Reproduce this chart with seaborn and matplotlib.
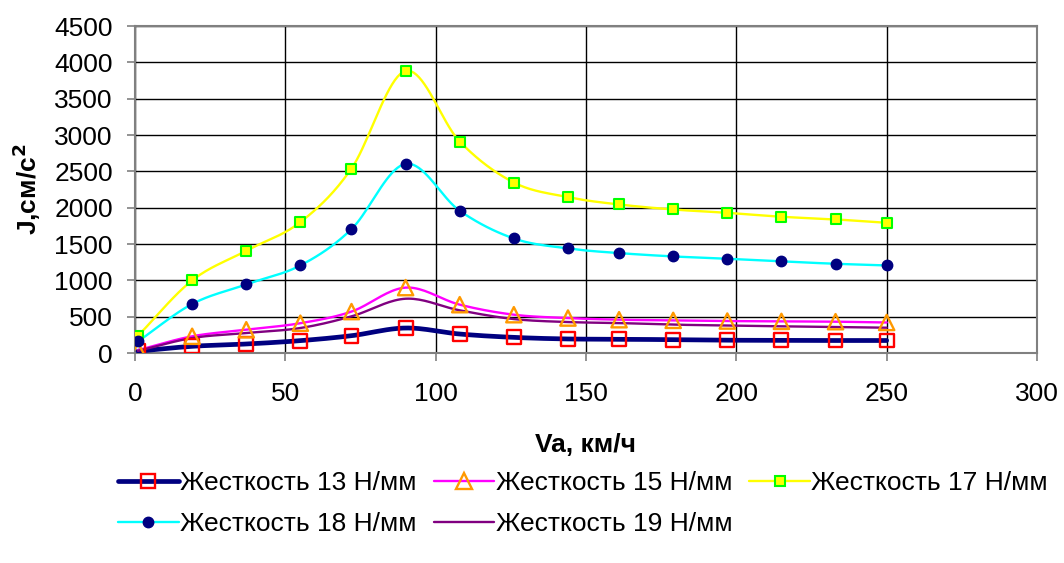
import seaborn as sns
import matplotlib.pyplot as plt
import pandas as pd
import numpy as np
from matplotlib.lines import Line2D

# speeds, km/h
va = [1, 19, 37, 55, 72, 90, 108, 126, 144, 161, 179, 197, 215, 233, 250]

j13 = [25, 92, 124, 170, 238, 344, 261, 215, 193, 190, 183, 176, 174, 172, 172]
j15 = [40, 230, 320, 410, 570, 900, 665, 527, 481, 458, 449, 440, 435, 431, 420]
j17 = [238, 999, 1407, 1801, 2539, 3882, 2910, 2346, 2145, 2044, 1975, 1929, 1875, 1838, 1792]
j18 = [160, 674, 944, 1205, 1705, 2603, 1957, 1576, 1439, 1375, 1329, 1297, 1260, 1228, 1205]
j19 = [30, 206, 275, 344, 504, 747, 587, 467, 426, 412, 390, 380, 367, 358, 348]

labels = ["Жесткость 13 Н/мм", "Жесткость 15 Н/мм", "Жесткость 17 Н/мм",
          "Жесткость 18 Н/мм", "Жесткость 19 Н/мм"]


def smooth(x, y, n=20):
    # Catmull-Rom curve through the points, like Excel's smoothed line
    x = np.asarray(x, float)
    y = np.asarray(y, float)
    px = np.concatenate([[2 * x[0] - x[1]], x, [2 * x[-1] - x[-2]]])
    py = np.concatenate([[2 * y[0] - y[1]], y, [2 * y[-1] - y[-2]]])
    xs, ys = [], []
    t = np.linspace(0, 1, n, endpoint=False)
    for i in range(1, len(px) - 2):
        for p, out in ((px, xs), (py, ys)):
            p0, p1, p2, p3 = p[i - 1], p[i], p[i + 1], p[i + 2]
            out.extend(0.5 * (2 * p1 + (-p0 + p2) * t
                              + (2 * p0 - 5 * p1 + 4 * p2 - p3) * t ** 2
                              + (-p0 + 3 * p1 - 3 * p2 + p3) * t ** 3))
    xs.append(x[-1])
    ys.append(y[-1])
    return xs, ys


sns.set_theme(style="white")
plt.rcParams['font.family'] = ['Liberation Sans', 'DejaVu Sans']
plt.rcParams['text.color'] = 'black'
plt.rcParams['axes.labelcolor'] = 'black'
FS = 19

styles = [
    dict(y=j13, lc="#000080", lw=3.4, m="s", ms=10, mfc="none", mec="#FF0000", mew=1.7),
    dict(y=j15, lc="#FF00FF", lw=1.7, m="^", ms=11, mfc="none", mec="#FF9900", mew=1.7),
    dict(y=j17, lc="#FFFF00", lw=1.7, m="s", ms=6.5, mfc="#FFFF00", mec="#00FF00", mew=1.5),
    dict(y=j18, lc="#00FFFF", lw=1.7, m="o", ms=7.5, mfc="#000080", mec="#000080", mew=1),
    dict(y=j19, lc="#800080", lw=1.7, m=None, ms=0, mfc="none", mec="none", mew=0),
]

fig = plt.figure(figsize=(10.64, 5.63), dpi=100)
ax = fig.add_axes([0.1269, 0.373, 0.8477, 0.5808])

handles = []
for lab, st in zip(labels, styles):
    sx, sy = smooth(va, st["y"])
    df = pd.DataFrame({"x": sx, "y": sy})
    sns.lineplot(data=df, x="x", y="y", ax=ax, color=st["lc"], lw=st["lw"],
                 sort=False, estimator=None, zorder=3)
    if st["m"]:
        pts = pd.DataFrame({"x": va, "y": st["y"]})
        sns.scatterplot(data=pts, x="x", y="y", ax=ax, marker=st["m"],
                        s=st["ms"] ** 2, facecolor=st["mfc"], edgecolor=st["mec"],
                        linewidth=st["mew"], zorder=4)
    handles.append(Line2D([], [], color=st["lc"], lw=st["lw"], marker=st["m"],
                          markersize=st["ms"], markerfacecolor=st["mfc"],
                          markeredgecolor=st["mec"], markeredgewidth=st["mew"],
                          label=lab))

ax.set_xlim(0, 300)
ax.set_ylim(0, 4500)
ax.set_xticks(range(0, 301, 50))
ax.set_yticks(range(0, 4501, 500))
ax.grid(True, color="black", lw=1)
ax.set_axisbelow(True)
for sp in ax.spines.values():
    sp.set_color("#808080")
    sp.set_linewidth(1.5)
ax.tick_params(axis="both", labelsize=FS, direction="out", length=6,
               color="#808080", labelcolor="black", width=1.2, left=True, bottom=True)
ax.tick_params(axis="y", pad=10)
ax.tick_params(axis="x", pad=15)

ax.set_xlabel("Va, км/ч", fontsize=FS, fontweight="bold", labelpad=19)
ax.set_ylabel("J,см/с$^{\\mathbf{2}}$", fontsize=FS, fontweight="bold", labelpad=8)

# row-wise order of the Excel legend (matplotlib fills columns first)
order = [0, 3, 1, 4, 2]
fig.legend(handles=[handles[i] for i in order], loc="center",
           bbox_to_anchor=(0.548, 0.106), ncol=3, frameon=False, fontsize=FS,
           handlelength=2.3, handletextpad=0.05, columnspacing=0.65,
           labelspacing=0.65, labelcolor="black")

plt.savefig("out.png", dpi=100)
